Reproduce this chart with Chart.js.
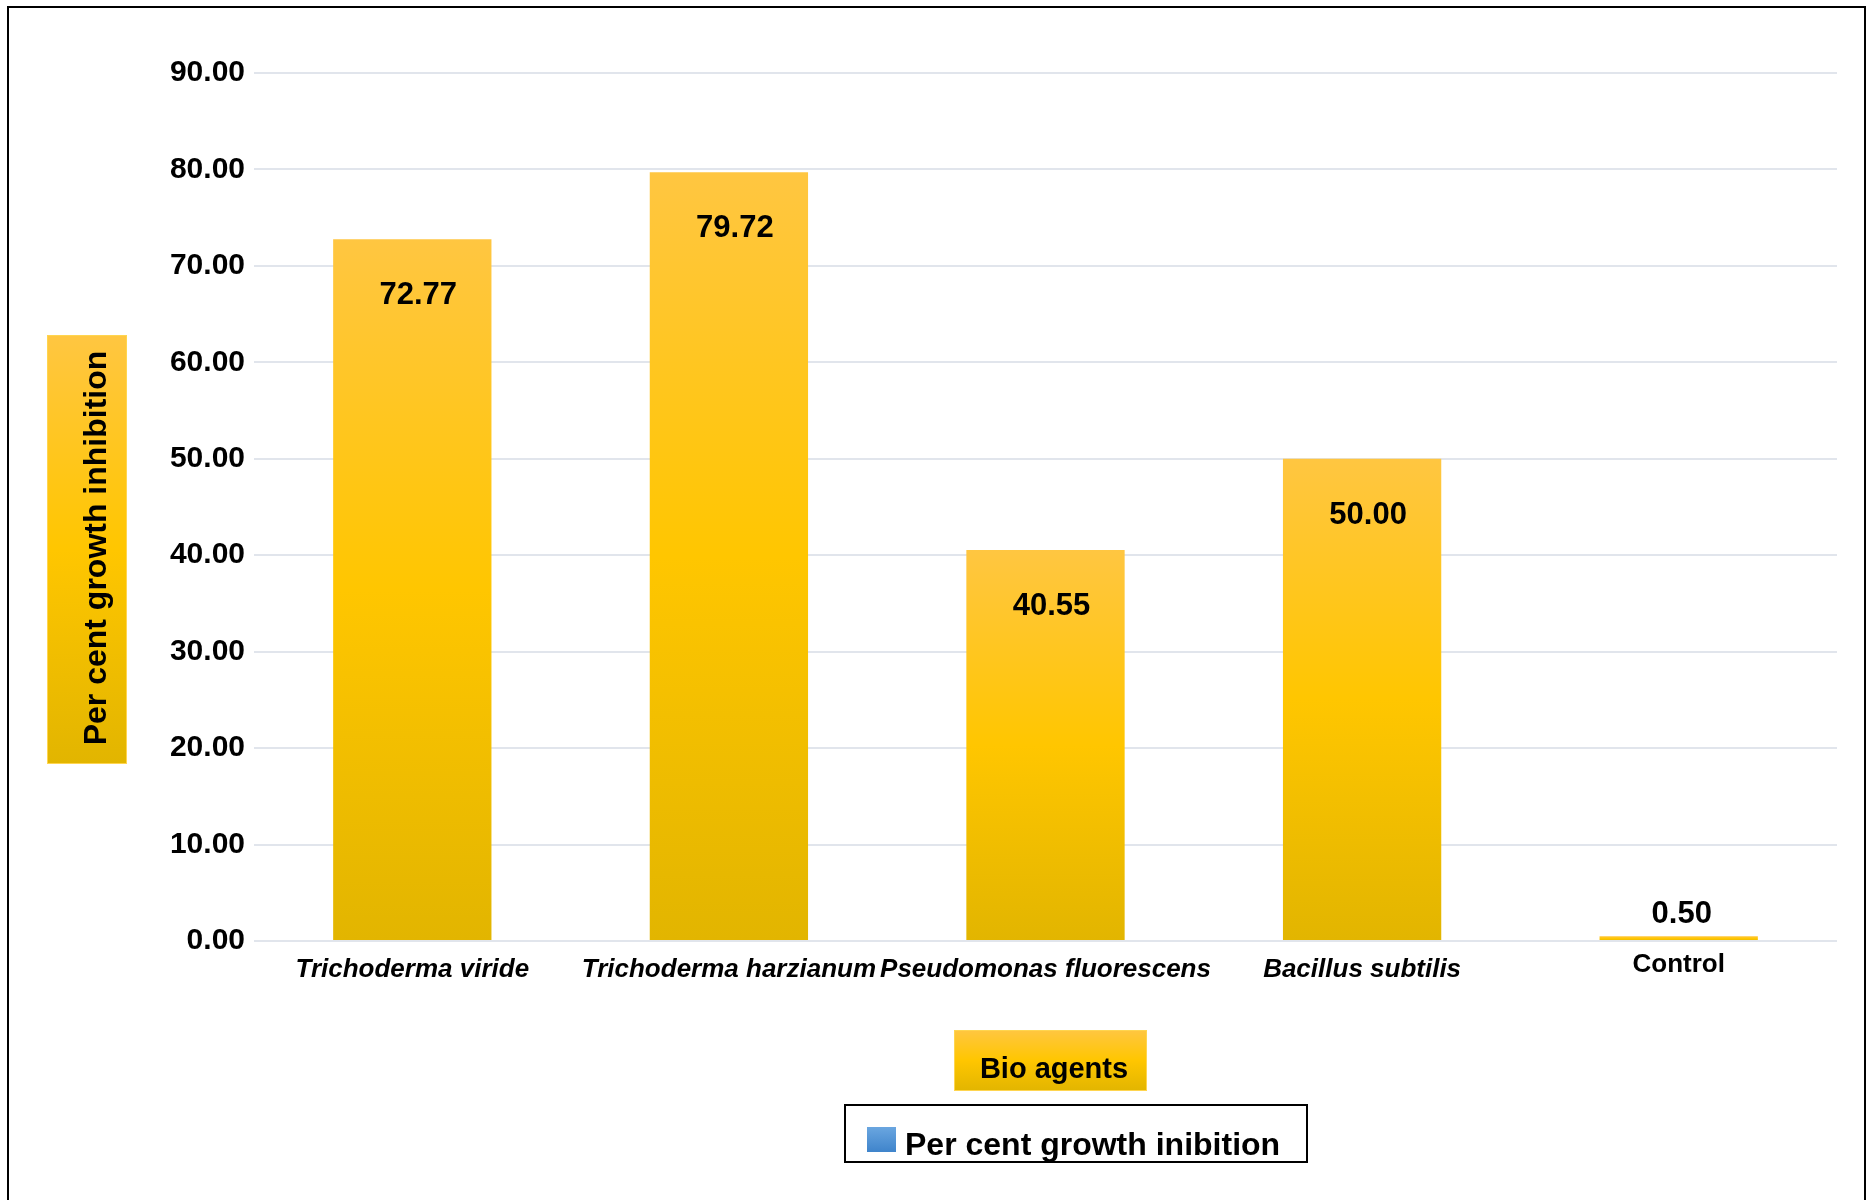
<!DOCTYPE html>
<html>
<head>
<meta charset="utf-8">
<script src="https://cdn.jsdelivr.net/npm/chart.js@4/dist/chart.umd.min.js"></script>
<style>
  html, body { margin: 0; padding: 0; background: #fff; }
  #wrap { position: relative; width: 1870px; height: 1200px; }
</style>
</head>
<body>
<div id="wrap"><canvas id="chart1"></canvas></div>
<script>
// ================== Data ==================
const categories = ["Trichoderma viride", "Trichoderma harzianum", "Pseudomonas fluorescens", "Bacillus subtilis", "Control"];
const inhibition = [72.77, 79.72, 40.55, 50.00, 0.50];
const italicLabels = [true, true, true, true, false];
const yMax = 90;
const yStep = 10;

const seriesLabel = "Per cent growth inibition";
const yTitle = "Per cent growth inhibition";
const xTitle = "Bio agents";

const FONT = "'Liberation Sans', Arial, sans-serif";

function goldGradient(c, top, bottom) {
  const g = c.createLinearGradient(0, top, 0, bottom);
  g.addColorStop(0, "#FFC641");
  g.addColorStop(0.5, "#FFC600");
  g.addColorStop(1, "#E2B500");
  return g;
}

// ================== Decorations (frame, titles, legend, value labels) ==================
const decorations = {
  id: "decorations",
  beforeDraw(chart) {
    const c = chart.ctx;
    c.save();
    c.strokeStyle = "#000";
    c.lineWidth = 2;
    c.strokeRect(8, 7, 1857, 1300);
    c.restore();
  },
  afterDatasetsDraw(chart) {
    const c = chart.ctx;
    const meta = chart.getDatasetMeta(0);
    c.save();
    c.fillStyle = "#000";
    c.font = "bold 31px " + FONT;
    c.textAlign = "center";
    c.textBaseline = "alphabetic";
    meta.data.forEach((bar, i) => {
      const v = inhibition[i];
      const txt = v.toFixed(2);
      if (v > 5) c.fillText(txt, bar.x + 6, bar.y + 65);
      else c.fillText(txt, bar.x + 3, bar.y - 13);
    });
    c.restore();
  },
  afterDraw(chart) {
    const c = chart.ctx;
    c.save();

    // y axis title box
    c.fillStyle = goldGradient(c, 335, 764);
    c.fillRect(47, 335, 80, 429);
    c.strokeStyle = "#FFD54F";
    c.lineWidth = 1;
    c.strokeRect(47.5, 335.5, 79, 428);
    c.save();
    c.translate(106, 548);
    c.rotate(-Math.PI / 2);
    c.fillStyle = "#000";
    c.font = "bold 32px " + FONT;
    c.textAlign = "center";
    c.textBaseline = "alphabetic";
    c.fillText(yTitle, 0, 0);
    c.restore();

    // x axis title box
    c.fillStyle = goldGradient(c, 1030, 1091);
    c.fillRect(954, 1030, 193, 61);
    c.strokeStyle = "#FFD54F";
    c.strokeRect(954.5, 1030.5, 192, 60);
    c.fillStyle = "#000";
    c.font = "bold 29px " + FONT;
    c.textAlign = "center";
    c.textBaseline = "alphabetic";
    c.fillText(xTitle, 1054, 1078);

    // legend
    c.strokeStyle = "#000";
    c.lineWidth = 2;
    c.strokeRect(845, 1105, 462, 57);
    const bg = c.createLinearGradient(0, 1127, 0, 1152);
    bg.addColorStop(0, "#6AA6E0");
    bg.addColorStop(1, "#3F84CB");
    c.fillStyle = bg;
    c.fillRect(867, 1127, 29, 25);
    c.fillStyle = "#000";
    c.font = "bold 32px " + FONT;
    c.textAlign = "left";
    c.fillText(seriesLabel, 905, 1155);

    c.restore();
  }
};

// ================== Chart ==================
new Chart(document.getElementById("chart1"), {
  type: "bar",
  data: {
    labels: categories,
    datasets: [
      {
        label: seriesLabel,
        data: inhibition,
        barPercentage: 0.5,
        categoryPercentage: 1.0,
        borderWidth: 0,
        backgroundColor: (ctx) => {
          const chart = ctx.chart;
          if (!chart.chartArea || ctx.raw === undefined) return "#FFC600";
          const y = chart.scales.y;
          const top = y.getPixelForValue(ctx.raw);
          const bottom = y.getPixelForValue(0);
          return goldGradient(chart.ctx, top, Math.max(bottom, top + 1));
        },
      },
    ],
  },
  options: {
    responsive: true,
    maintainAspectRatio: false,
    animation: false,
    layout: { padding: { left: 130, top: 73, right: 33, bottom: 199 } },
    plugins: {
      legend: { display: false },
      tooltip: { enabled: false },
    },
    scales: {
      x: {
        grid: { display: false, drawTicks: false },
        border: { display: false },
        afterFit: (scale) => { scale.height = 60; },
        ticks: {
          color: "#000",
          padding: 13,
          maxRotation: 0,
          autoSkip: false,
          font: (ctx) => italicLabels[ctx.index]
            ? { family: FONT, size: 26, weight: "bold", style: "italic", lineHeight: 1.2 }
            : { family: FONT, size: 26, weight: "bold", style: "normal", lineHeight: 0.86 },
        },
      },
      y: {
        min: 0,
        max: yMax,
        grid: { color: "#E1E5EC", lineWidth: 2, drawTicks: false },
        border: { display: false },
        afterFit: (scale) => { scale.width = 124; },
        ticks: {
          stepSize: yStep,
          color: "#000",
          padding: 9,
          font: { family: FONT, size: 30, weight: "bold" },
          callback: (v) => Number(v).toFixed(2),
        },
      },
    },
  },
  plugins: [decorations],
});
</script>
</body>
</html>
